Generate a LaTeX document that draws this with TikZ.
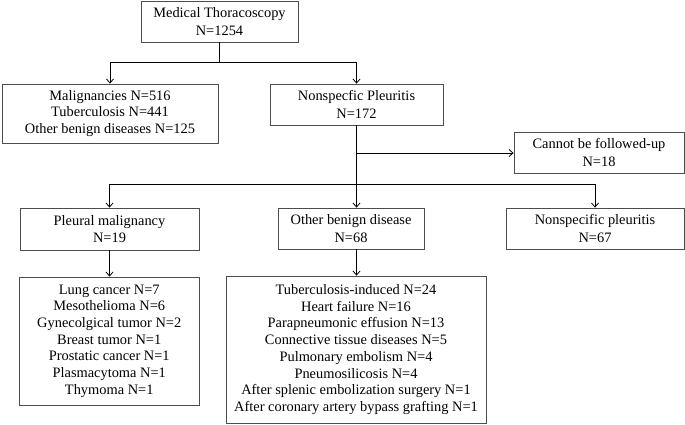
\documentclass[tikz,border=0pt]{standalone}
\usepackage{fontspec}
\setmainfont{Liberation Serif}
\usetikzlibrary{arrows.meta}
\begin{document}
\begin{tikzpicture}[x=1pt,y=-1pt,
  box/.style={draw=black!70, line width=0.8pt, inner sep=0pt, align=center,
    font=\fontsize{14.4}{16.7}\selectfont, anchor=center},
  arr/.style={draw=black, line width=0.8pt, -{Straight Barb[length=4pt,width=7pt]}},
  ln/.style={draw=black, line width=0.8pt}]
\useasboundingbox (0,0) rectangle (685,424);
\node[box, minimum width=157pt, minimum height=41pt] (top) at (219.5,21.5) {Medical Thoracoscopy\\[1pt]N=1254};
\node[box, minimum width=216pt, minimum height=59pt] (mal) at (110,113.5) {Malignancies N=516\\Tuberculosis N=441\\Other benign diseases N=125};
\node[box, minimum width=173pt, minimum height=41pt] (ns2) at (356.5,104.5) {Nonspecfic Pleuritis\\[1pt]N=172};
\node[box, minimum width=170pt, minimum height=41pt] (cf) at (599,152.5) {Cannot be followed-up\\[1pt]N=18};
\node[box, minimum width=179pt, minimum height=42pt] (pm) at (109.5,229) {Pleural malignancy\\[1pt]N=19};
\node[box, minimum width=146pt, minimum height=41pt] (ob) at (351,228.5) {Other benign disease\\[1pt]N=68};
\node[box, minimum width=178pt, minimum height=41pt] (np) at (595,228.5) {Nonspecific pleuritis\\[1pt]N=67};
\node[box, minimum width=179.5pt, minimum height=128pt] (lc) at (109.25,341) {Lung cancer N=7\\Mesothelioma N=6\\Gynecolgical tumor N=2\\Breast tumor N=1\\Prostatic cancer N=1\\Plasmacytoma N=1\\Thymoma N=1};
\node[box, minimum width=260pt, minimum height=147pt] (ob4) at (356,349.5) {Tuberculosis-induced N=24\\Heart failure N=16\\Parapneumonic effusion N=13\\Connective tissue diseases N=5\\Pulmonary embolism N=4\\Pneumosilicosis N=4\\After splenic embolization surgery N=1\\After coronary artery bypass grafting N=1};
\coordinate (j1) at (0,62.5);
\coordinate (j2) at (0,184);
\coordinate (j3) at (0,153);
\draw[ln] (top.south) -- (top.south |- j1);
\draw[ln] (mal.north |- j1) -- (ns2.north |- j1);
\draw[arr] (mal.north |- j1) -- (mal.north);
\draw[arr] (ns2.north |- j1) -- (ns2.north);
\draw[arr] (ns2.south) -- (ns2.south |- ob.north);
\draw[arr] (ns2.south |- j3) -- (cf.west |- j3);
\draw[ln] (pm.north |- j2) -- (np.north |- j2);
\draw[arr] (pm.north |- j2) -- (pm.north);
\draw[arr] (np.north |- j2) -- (np.north);
\draw[arr] (pm.south) -- (pm.south |- lc.north);
\draw[arr] (ns2.south |- ob.south) -- (ns2.south |- ob4.north);
\end{tikzpicture}
\end{document}
